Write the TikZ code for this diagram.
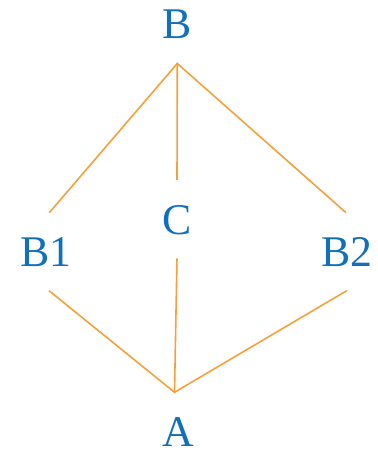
\documentclass[tikz,border=0pt]{standalone}
\usepackage{fontspec}
\setmainfont{Liberation Serif}
\definecolor{lblblue}{HTML}{1170BC}
\definecolor{edgeor}{HTML}{F5A03A}
\begin{document}
\begin{tikzpicture}[x=1bp,y=-1bp,
  lbl/.style={anchor=base,inner sep=0pt,text=lblblue,font=\fontsize{43.8bp}{50bp}\selectfont},
  edge/.style={draw=edgeor,line width=1.6bp}]
\useasboundingbox (0,0) rectangle (377,452);
\node[lbl] (B) at (176.7,38.3) {B};
\node[lbl] (B1) at (46.3,266.5) {B1};
\node[lbl] (C) at (177,234.8) {C};
\node[lbl] (B2) at (346.7,266.5) {B2};
\node[lbl] (A) at (178,446) {A};
\coordinate (Bv) at (177.3,63.5);
\coordinate (Av) at (174.5,392.3);
\coordinate (B1t) at (49.3,212.7);
\coordinate (B1b) at (49,290.7);
\coordinate (Ct) at (177,180);
\coordinate (Cb) at (177,258.3);
\coordinate (B2t) at (346,212.7);
\coordinate (B2b) at (346.7,290.7);
\draw[edge] (B1t) -- (Bv) -- (B2t);
\draw[edge] (Bv) -- (Ct);
\draw[edge] (B1b) -- (Av) -- (B2b);
\draw[edge] (Cb) -- (Av);
\end{tikzpicture}
\end{document}
